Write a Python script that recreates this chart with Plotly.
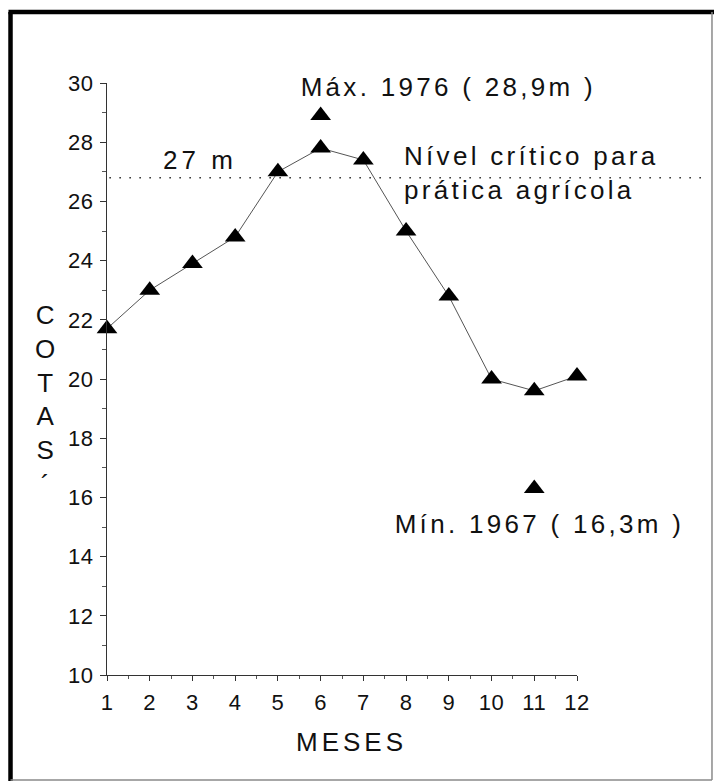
import plotly.graph_objects as go

# ---- data ----
months = [1, 2, 3, 4, 5, 6, 7, 8, 9, 10, 11, 12]
cotas = [21.7, 23.0, 23.9, 24.8, 27.0, 27.8, 27.4, 25.0, 22.8, 20.0, 19.6, 20.1]
max_month = [6]
max_value = [28.9]
min_month = [11]
min_value = [16.3]
critical_level = 26.8
x_ticks = [1, 2, 3, 4, 5, 6, 7, 8, 9, 10, 11, 12]
y_ticks = [10, 12, 14, 16, 18, 20, 22, 24, 26, 28, 30]

FONT = "Liberation Sans, Arial, Helvetica, sans-serif"
INK = "#111111"

fig = go.Figure()
fig.add_trace(go.Scatter(
    x=months, y=cotas, mode="lines+markers",
    line=dict(color="#555555", width=1),
    marker=dict(symbol="triangle-up", size=18, color="black"),
    cliponaxis=False, showlegend=False, hoverinfo="skip"))
fig.add_trace(go.Scatter(
    x=max_month + min_month, y=max_value + min_value, mode="markers",
    marker=dict(symbol="triangle-up", size=18, color="black"),
    cliponaxis=False, showlegend=False, hoverinfo="skip"))

# critical level dotted line
fig.add_shape(type="line", xref="paper", yref="y", x0=0.005, x1=1.272,
              y0=critical_level, y1=critical_level,
              line=dict(color="#333333", width=1.6, dash="1.6px,8.4px"))

# frame
fig.add_shape(type="line", xref="paper", yref="paper", x0=-0.2053, x1=-0.2053,
              y0=1.1199, y1=-0.1790, line=dict(color="black", width=4.5))
fig.add_shape(type="line", xref="paper", yref="paper", x0=-0.2096, x1=1.30,
              y0=1.1199, y1=1.1199, line=dict(color="black", width=4.5))
fig.add_shape(type="line", xref="paper", yref="paper", x0=1.2872, x1=1.2872,
              y0=1.1199, y1=-0.1774, line=dict(color="#8a8a8a", width=1.5))
fig.add_shape(type="line", xref="paper", yref="paper", x0=-0.2053, x1=1.2872,
              y0=-0.1774, y1=-0.1774, line=dict(color="#8a8a8a", width=1.5))

af = dict(family=FONT, size=26, color=INK)
fig.add_annotation(x=9.0, y=29.85, xref="x", yref="y", text="Máx. 1976 ( 28,9m )",
                   showarrow=False, font=af, xanchor="center", yanchor="middle")
fig.add_annotation(x=3.18, y=27.4, xref="x", yref="y", text="27 m",
                   showarrow=False, font=af, xanchor="center", yanchor="middle")
fig.add_annotation(x=7.905, y=26.95, xref="x", yref="y",
                   text="Nível crítico para<br>prática agrícola",
                   showarrow=False, font=af, xanchor="left", yanchor="middle", align="left")
fig.add_annotation(x=11.13, y=15.1, xref="x", yref="y", text="Mín. 1967 ( 16,3m )",
                   showarrow=False, font=af, xanchor="center", yanchor="middle")
fig.add_annotation(x=0.521, y=-0.113, xref="paper", yref="paper", text="MESES",
                   showarrow=False, font=af, xanchor="center", yanchor="middle")
fig.add_annotation(x=-0.1320, y=0.465, xref="paper", yref="paper",
                   text="C<br>O<br>T<br>A<br>S<br>´",
                   showarrow=False, font=af, xanchor="center", yanchor="middle")

tf = dict(family=FONT, size=22, color=INK)
fig.update_xaxes(range=[1, 12], tickvals=x_ticks, ticktext=[str(v) for v in x_ticks],
                 showline=True, linecolor="#333333", linewidth=1,
                 ticks="outside", ticklen=5, tickcolor="#333333", tickfont=tf,
                 ticklabelstandoff=3,
                 minor=dict(ticks="outside", dtick=0.5, ticklen=3, tickcolor="#555555"),
                 showgrid=False, zeroline=False)
fig.update_yaxes(range=[10, 30], tickvals=y_ticks, ticktext=[str(v) for v in y_ticks],
                 showline=True, linecolor="#333333", linewidth=1.2,
                 ticks="outside", ticklen=6, tickcolor="#333333", tickfont=tf,
                 ticklabelstandoff=2,
                 minor=dict(ticks="outside", dtick=1, ticklen=4, tickcolor="#555555"),
                 showgrid=False, zeroline=False)

fig.update_layout(width=714, height=783, margin=dict(l=107, r=137, t=83, b=108),
                  paper_bgcolor="white", plot_bgcolor="white", showlegend=False)

post = """
document.body.style.margin = '0';
document.body.style.padding = '0';
var gd = document.getElementById('{plot_id}');
gd.querySelectorAll('g.annotation text').forEach(function(t){
  var s = t.textContent;
  if (s === 'MESES') { t.style.letterSpacing = '4px'; }
  else if (s.length > 8) { t.style.letterSpacing = '3.3px'; }
  else if (s === '27 m') { t.style.letterSpacing = '4px'; }
});
gd.querySelectorAll('g.xtick text, g.ytick text').forEach(function(t){
  t.style.letterSpacing = '0.5px';
});
"""
fig.write_html("out.html", post_script=post, config={"displayModeBar": False})
